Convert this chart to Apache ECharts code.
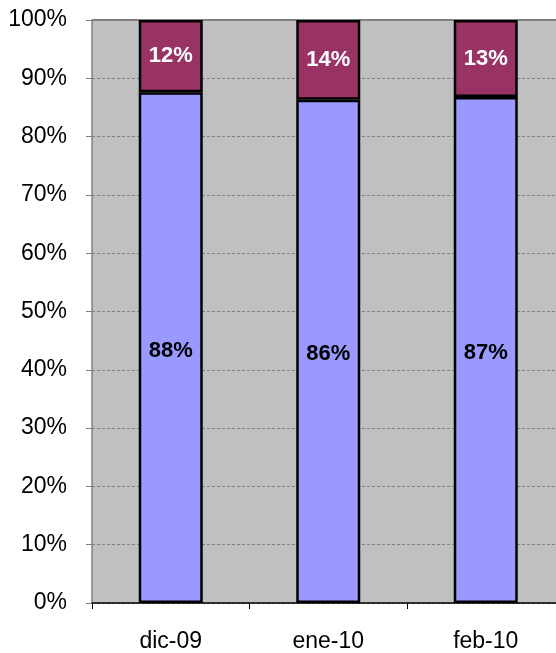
<!DOCTYPE html>
<html><head><meta charset="utf-8">
<script src="https://cdn.jsdelivr.net/npm/echarts@6/dist/echarts.min.js"></script>
<style>html,body{margin:0;padding:0;background:#fff;overflow:hidden}#c{width:556px;height:653px}</style>
</head><body><div id="c"></div>
<script>
const categories = ['dic-09', 'ene-10', 'feb-10'];
const lowerValues = [87.6, 86.3, 86.8];
const upperValues = [12.4, 13.7, 13.2];
const yTicks = [0, 10, 20, 30, 40, 50, 60, 70, 80, 90, 100];

const chart = echarts.init(document.getElementById('c'));
const font = 'Liberation Sans, Arial, sans-serif';
chart.setOption({
  animation: false,
  grid: {left: 92, top: 20, width: 472.5, height: 583, show: true, backgroundColor: '#C0C0C0', borderWidth: 0,
    outerBoundsMode: 'none', containLabel: false},
  xAxis: {
    type: 'category', data: categories,
    axisLine: {lineStyle: {color: '#000', width: 1.5}},
    axisTick: {show: true, length: 6, lineStyle: {color: '#000'}},
    axisLabel: {fontFamily: font, fontSize: 23, color: '#000', margin: 27}
  },
  yAxis: {
    type: 'value', min: 0, max: 100, interval: 10,
    axisLine: {show: true, lineStyle: {color: '#808080', width: 1.5}},
    axisTick: {show: true, length: 6, lineStyle: {color: '#808080'}},
    axisLabel: {fontFamily: font, fontSize: 23, color: '#000', margin: 25,
      formatter: v => yTicks.includes(v) ? v + '%' : ''},
    splitLine: {show: true, lineStyle: {color: '#808080', type: [3, 2], width: 1}}
  },
  series: [
    {type: 'bar', stack: 's', data: lowerValues, barWidth: 64,
      itemStyle: {color: '#9999FF', borderColor: '#000', borderWidth: 2.5},
      label: {show: true, position: 'inside', offset: [0, 3], fontFamily: font, fontSize: 22, fontWeight: 'bold', color: '#000',
        formatter: p => Math.round(p.value) + '%'}},
    {type: 'bar', stack: 's', data: upperValues, barWidth: 64,
      itemStyle: {color: '#993366', borderColor: '#000', borderWidth: 2.5},
      label: {show: true, position: 'inside', fontFamily: font, fontSize: 22, fontWeight: 'bold', color: '#fff',
        formatter: p => Math.round(p.value) + '%'}}
  ],
  graphic: [{type: 'line', shape: {x1: 92, y1: 20, x2: 556, y2: 20}, style: {stroke: '#808080', lineWidth: 2}, z: 1}]
});
</script></body></html>
